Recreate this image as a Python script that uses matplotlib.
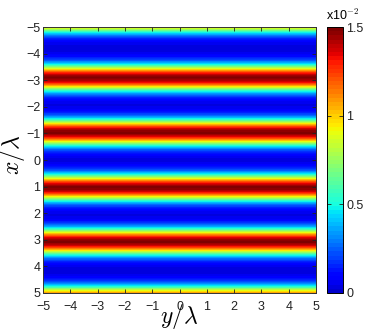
import numpy as np
import matplotlib
matplotlib.use("Agg")
import matplotlib.pyplot as plt
from matplotlib.colors import ListedColormap

# -----------------------------
# Data: intensity profile along x/lambda (units of 1e-2), x = -5 ... 5 step 0.1
# constant along y/lambda
# -----------------------------
x_range = (-5.0, 5.0)
y_range = (-5.0, 5.0)
intensity = [
    1.00, 0.75, 0.50, 0.32, 0.19, 0.11, 0.06, 0.04, 0.04, 0.04,
    0.06, 0.11, 0.18, 0.31, 0.48, 0.72, 1.00, 1.26, 1.41, 1.50,
    1.43, 1.30, 1.06, 0.78, 0.52, 0.34, 0.20, 0.12, 0.07, 0.04,
    0.05, 0.08, 0.14, 0.24, 0.39, 0.60, 0.86, 1.14, 1.34, 1.47,
    1.49, 1.38, 1.19, 0.92, 0.65, 0.43, 0.26, 0.16, 0.09, 0.05,
    0.04,
    0.05, 0.09, 0.16, 0.26, 0.43, 0.65, 0.92, 1.19, 1.38, 1.49,
    1.47, 1.34, 1.14, 0.86, 0.60, 0.39, 0.24, 0.14, 0.08, 0.05,
    0.04, 0.07, 0.13, 0.23, 0.37, 0.57, 0.84, 1.11, 1.33, 1.46,
    1.49, 1.39, 1.21, 0.95, 0.67, 0.45, 0.28, 0.17, 0.10, 0.05,
    0.04, 0.04, 0.05, 0.08, 0.15, 0.25, 0.41, 0.62, 0.89, 1.10,
]
ticks = [-5, -4, -3, -2, -1, 0, 1, 2, 3, 4, 5]
cbar_ticks = [0, 0.5, 1, 1.5]
cbar_labels = ["0", "0.5", "1", "1.5"]

plt.rcParams["font.family"] = ["Liberation Sans", "DejaVu Sans"]
plt.rcParams["mathtext.fontset"] = "cm"
TICK_FONT = 9

# jet with a brighter blue bottom, like the reference
cmap = ListedColormap(plt.get_cmap("jet")(np.linspace(0.07, 1.0, 64)))

fig = plt.figure(figsize=(3.74, 3.31), dpi=100)
ax = fig.add_axes([0.115, 0.115, 0.730, 0.803])
cax = fig.add_axes([0.874, 0.115, 0.044, 0.803])

img = np.array(intensity)[:, None].repeat(2, axis=1)
half = 0.5 * (x_range[1] - x_range[0]) / (len(intensity) - 1)
im = ax.imshow(img, cmap=cmap, vmin=0, vmax=1.5,
               aspect="auto", interpolation="bilinear", interpolation_stage="data",
               extent=(y_range[0], y_range[1], x_range[1] + half, x_range[0] - half))
ax.set_xlim(y_range)
ax.set_ylim(x_range[1], x_range[0])

ax.set_xticks(ticks)
ax.set_yticks(ticks)
ax.tick_params(direction="in", top=True, right=True, length=3, width=0.6,
               labelsize=TICK_FONT, colors="#222222")
ax.tick_params(axis="x", pad=6)
ax.tick_params(axis="y", pad=2)
for s in ax.spines.values():
    s.set_linewidth(0.7)
    s.set_color("#333333")

ax.set_xlabel(r"$y/\lambda$", fontsize=17, va="center")
ax.xaxis.set_label_coords(0.5, -0.087)
ax.set_ylabel(r"$x/\lambda$", fontsize=17, va="center", ha="center")
ax.yaxis.set_label_coords(-0.11, 0.52)

cb = fig.colorbar(im, cax=cax)
cb.set_ticks(cbar_ticks)
cb.set_ticklabels(cbar_labels)
cax.tick_params(direction="in", left=True, right=True, length=3, width=0.6,
                labelsize=TICK_FONT, pad=2, colors="#222222")
cb.outline.set_linewidth(0.7)
fig.text(0.871, 0.94, r"x10$^{-2}$", fontsize=9, va="baseline", ha="left")

fig.savefig("out.png", dpi=100)
